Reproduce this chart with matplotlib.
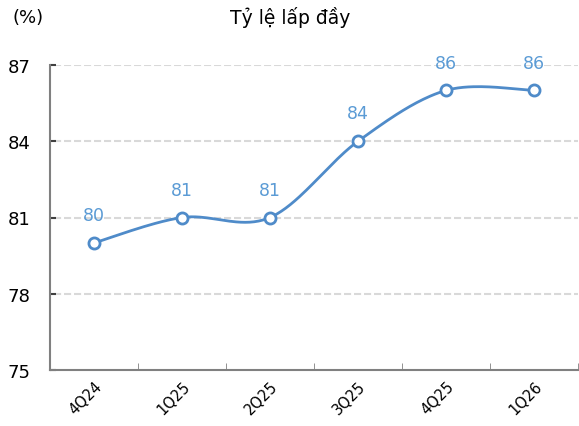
import numpy as np
import matplotlib.pyplot as plt

quarters = ['4Q24', '1Q25', '2Q25', '3Q25', '4Q25', '1Q26']
occupancy = [80, 81, 81, 84, 86, 86]

line_color = '#4f8bc9'
label_color = '#5b9bd5'


def smooth_curve(xs, ys, n=40):
    # Excel-like smoothed line: cubic Bezier segments with Catmull-Rom handles
    xs = np.asarray(xs, float)
    ys = np.asarray(ys, float)
    px = np.concatenate([[xs[0]], xs, [xs[-1]]])
    py = np.concatenate([[ys[0]], ys, [ys[-1]]])
    out_x, out_y = [], []
    t = np.linspace(0, 1, n)
    for i in range(1, len(px) - 2):
        p0 = np.array([px[i], py[i]])
        p3 = np.array([px[i + 1], py[i + 1]])
        p1 = p0 + (np.array([px[i + 1], py[i + 1]]) - np.array([px[i - 1], py[i - 1]])) / 6
        p2 = p3 - (np.array([px[i + 2], py[i + 2]]) - np.array([px[i], py[i]])) / 6
        b = ((1 - t) ** 3)[:, None] * p0 + (3 * (1 - t) ** 2 * t)[:, None] * p1 \
            + (3 * (1 - t) * t ** 2)[:, None] * p2 + (t ** 3)[:, None] * p3
        out_x.extend(b[:, 0])
        out_y.extend(b[:, 1])
    return out_x, out_y


fig = plt.figure(figsize=(5.79, 4.27), dpi=100)
ax = fig.add_axes([50 / 579, (427 - 371) / 427, 528 / 579, 305 / 427])

x = np.arange(len(quarters))
sx, sy = smooth_curve(x, occupancy)
ax.plot(sx, sy, '-', color=line_color, lw=2, zorder=3)
ax.plot(x, occupancy, 'o', ms=8, mfc='white', mec=line_color, mew=2, zorder=4)

for xi, v in zip(x, occupancy):
    ax.annotate(str(v), (xi, v), xytext=(0, 13.5), textcoords='offset points',
                ha='center', va='bottom', color=label_color, fontsize=12.5)

ax.set_xlim(-0.5, len(quarters) - 0.5)
ax.set_ylim(75, 87)
ax.set_yticks([75, 78, 81, 84, 87])
ax.tick_params(axis='y', length=4, width=1.5, direction='in', color='#404040',
               labelsize=13, pad=14)

ax.set_xticks(x)
ax.set_xticklabels(quarters, rotation=45, ha='right', rotation_mode='anchor', fontsize=10.5)
ax.set_xticks(np.arange(-0.5, len(quarters)), minor=True)
ax.tick_params(axis='x', which='major', length=0, pad=6)
ax.tick_params(axis='x', which='minor', length=5, direction='in', color='#808080')

for yv in [78, 81, 84, 87]:
    ax.plot([-0.45, len(quarters) - 0.5], [yv, yv], color='#d9d9d9', lw=1.5,
            ls=(0, (3.4, 1.4)), zorder=1, solid_capstyle='butt')

for side in ['top', 'right']:
    ax.spines[side].set_visible(False)
for side in ['left', 'bottom']:
    ax.spines[side].set_color('#808080')
    ax.spines[side].set_linewidth(1.5)

fig.text(13 / 579, 1 - 18 / 427, '(%)', fontsize=13, va='center', ha='left')
fig.text(290 / 579, 1 - 18 / 427, 'Tỷ lệ lấp đầy', fontsize=13.5, va='center', ha='center')

fig.savefig('out.png', dpi=100)
